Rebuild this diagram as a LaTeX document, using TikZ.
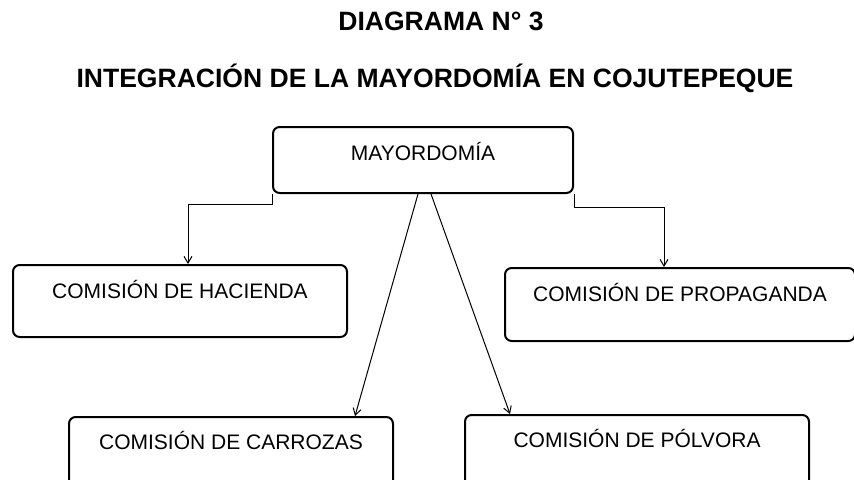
\documentclass[tikz,border=0pt]{standalone}
\usepackage{fontspec}
\setmainfont{Liberation Sans}
\usetikzlibrary{arrows.meta,calc}
\begin{document}
\begin{tikzpicture}[x=0.75pt,y=-0.75pt,
  boxstyle/.style={draw, line width=1.5pt, rounded corners=5pt, inner sep=0pt},
  conn/.style={line width=0.75pt, -{Straight Barb[length=5pt,width=6pt]}},
  lbl/.style={font=\fontsize{15.75}{18}\selectfont, anchor=base, inner sep=0pt},
  ttl/.style={font=\fontsize{19.9}{23}\selectfont\bfseries, anchor=base, inner sep=0pt}]
\useasboundingbox (0,0) rectangle (854,479);
\clip (0,0) rectangle (854,479);
% titles
\node[ttl] (t1) at (441,30) {DIAGRAMA N° 3};
\node[ttl] (t2) at (435,87) {INTEGRACIÓN DE LA MAYORDOMÍA EN COJUTEPEQUE};
% boxes
\node[boxstyle, minimum width=225pt, minimum height=49.5pt] (may) at (423,160) {};
\node[boxstyle, minimum width=250.5pt, minimum height=54pt] (hac) at (180,301) {};
\node[boxstyle, minimum width=262.5pt, minimum height=54.75pt] (pro) at (680,304.5) {};
\node[boxstyle, minimum width=243pt, minimum height=54pt] (car) at (231,453) {};
\node[boxstyle, minimum width=258pt, minimum height=54pt] (pol) at (637,451) {};
% labels
\node[lbl] (mayt) at ($(may.north)+(0,34)$) {MAYORDOMÍA};
\node[lbl] (hact) at ($(hac.north)+(0,34)$) {COMISIÓN DE HACIENDA};
\node[lbl] (prot) at ($(pro.north)+(0,34)$) {COMISIÓN DE PROPAGANDA};
\node[lbl] (cart) at ($(car.north)+(0,33)$) {COMISIÓN DE CARROZAS};
\node[lbl] (polt) at ($(pol.north)+(0,33)$) {COMISIÓN DE PÓLVORA};
% connectors
\coordinate (lc) at (188,204);
\coordinate (rc) at (664,207);
\draw[conn] (may.south west) |- (lc) -- (lc |- hac.north);
\draw[conn] (may.south east) |- (rc) -- (rc |- pro.north);
\coordinate (dl1) at ($(may.south)+(-5,0)$);
\coordinate (dl2) at ($(car.north)+(124,0)$);
\coordinate (dr1) at ($(may.south)+(8,0)$);
\coordinate (dr2) at ($(pol.north)+(-127,0)$);
\draw[conn] (dl1) -- (dl2);
\draw[conn] (dr1) -- (dr2);
\end{tikzpicture}
\end{document}
